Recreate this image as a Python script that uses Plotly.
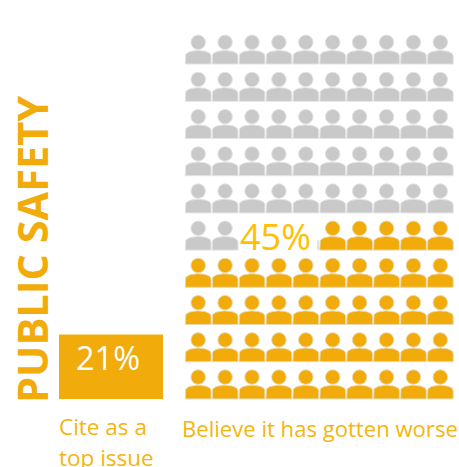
import math
import plotly.graph_objects as go

# Data
TOTAL_ICONS = 100
ROWS = 10
COLUMNS = 10
worse_share = 45
top_issue_share = 21
title = "PUBLIC SAFETY"
top_issue_label = ["Cite as a", "top issue"]
worse_label = "Believe it has gotten worse"

# Style
GREY = "#C9C9C9"
ORANGE = "#F1AB0A"
TEXT = "#F5B50E"
FONT = "Open Sans"
W, H = 459, 467
X0, DX = 198.2, 26.9
Y0, DY = 42.3, 37.2


def body(cx, head_y):
    top, bottom, half = head_y + 8.2, head_y + 21.8, 12.9
    xs, ys = [cx - half], [bottom]
    for i in range(0, 25):
        t = math.pi - math.pi * i / 24
        xs.append(cx + half * math.cos(t))
        ys.append(top + 6.0 * (1 - math.sin(t) ** 0.8))
    xs += [cx + half, cx - half, None]
    ys += [bottom, bottom, None]
    return xs, ys


groups = {GREY: ([], [], [], []), ORANGE: ([], [], [], [])}
for index in range(TOTAL_ICONS):
    row = index // COLUMNS  # row 0 is the bottom one; orange fills from the bottom right
    col = index % COLUMNS
    if row < worse_share // COLUMNS:
        colour = ORANGE
    elif row == worse_share // COLUMNS and col >= COLUMNS - worse_share % COLUMNS:
        colour = ORANGE
    else:
        colour = GREY
    cx = X0 + col * DX
    cy = Y0 + (ROWS - 1 - row) * DY
    hx, hy, bx, by = groups[colour]
    hx.append(cx)
    hy.append(cy)
    xs, ys = body(cx, cy)
    bx += xs
    by += ys

fig = go.Figure()
for colour, (hx, hy, bx, by) in groups.items():
    halo = "#E4E4E4" if colour == GREY else "#E8D9B0"
    fig.add_trace(go.Scatter(x=bx, y=by, mode="lines", fill="toself", fillcolor=colour,
                             line=dict(color=halo, width=1), hoverinfo="skip"))
    fig.add_trace(go.Scatter(x=hx, y=hy, mode="markers",
                             marker=dict(size=14.5, color=colour, line=dict(color=halo, width=1)),
                             hoverinfo="skip"))

fig.add_shape(type="rect", xref="x", yref="y", x0=59, x1=163, y0=334.5, y1=399,
              fillcolor=ORANGE, line=dict(width=0))
fig.add_shape(type="rect", xref="x", yref="y", x0=239, x1=317.5, y0=218, y1=256,
              fillcolor="white", line=dict(width=0), layer="above")


def label(text, x, y, size, colour, anchor="left", angle=0, weight=400):
    fig.add_annotation(text=text, x=x, y=y, xref="x", yref="y", showarrow=False,
                       xanchor=anchor, yanchor="middle", textangle=angle,
                       font=dict(family=FONT, size=size, color=colour, weight=weight))


label(f"{worse_share}%", 275, 236, 36, "#FFC000", anchor="center")
label(f"{top_issue_share}%", 107.5, 357, 32.5, "white", anchor="center")
label(title, 32, 250, 41.5, ORANGE, anchor="center", angle=-90, weight=700)
label(top_issue_label[0], 57, 426, 22.5, TEXT)
label(top_issue_label[1], 57, 457, 22.5, TEXT)
label(worse_label, 180, 428, 22.1, TEXT)

fig.update_layout(
    width=W, height=H, margin=dict(l=0, r=0, t=0, b=0),
    paper_bgcolor="white", plot_bgcolor="white", showlegend=False,
    xaxis=dict(range=[0, W], visible=False, fixedrange=True),
    yaxis=dict(range=[H, 0], visible=False, fixedrange=True),
)
fig.write_html("out.html", config={"displayModeBar": False},
               post_script="document.body.style.margin='0';")
